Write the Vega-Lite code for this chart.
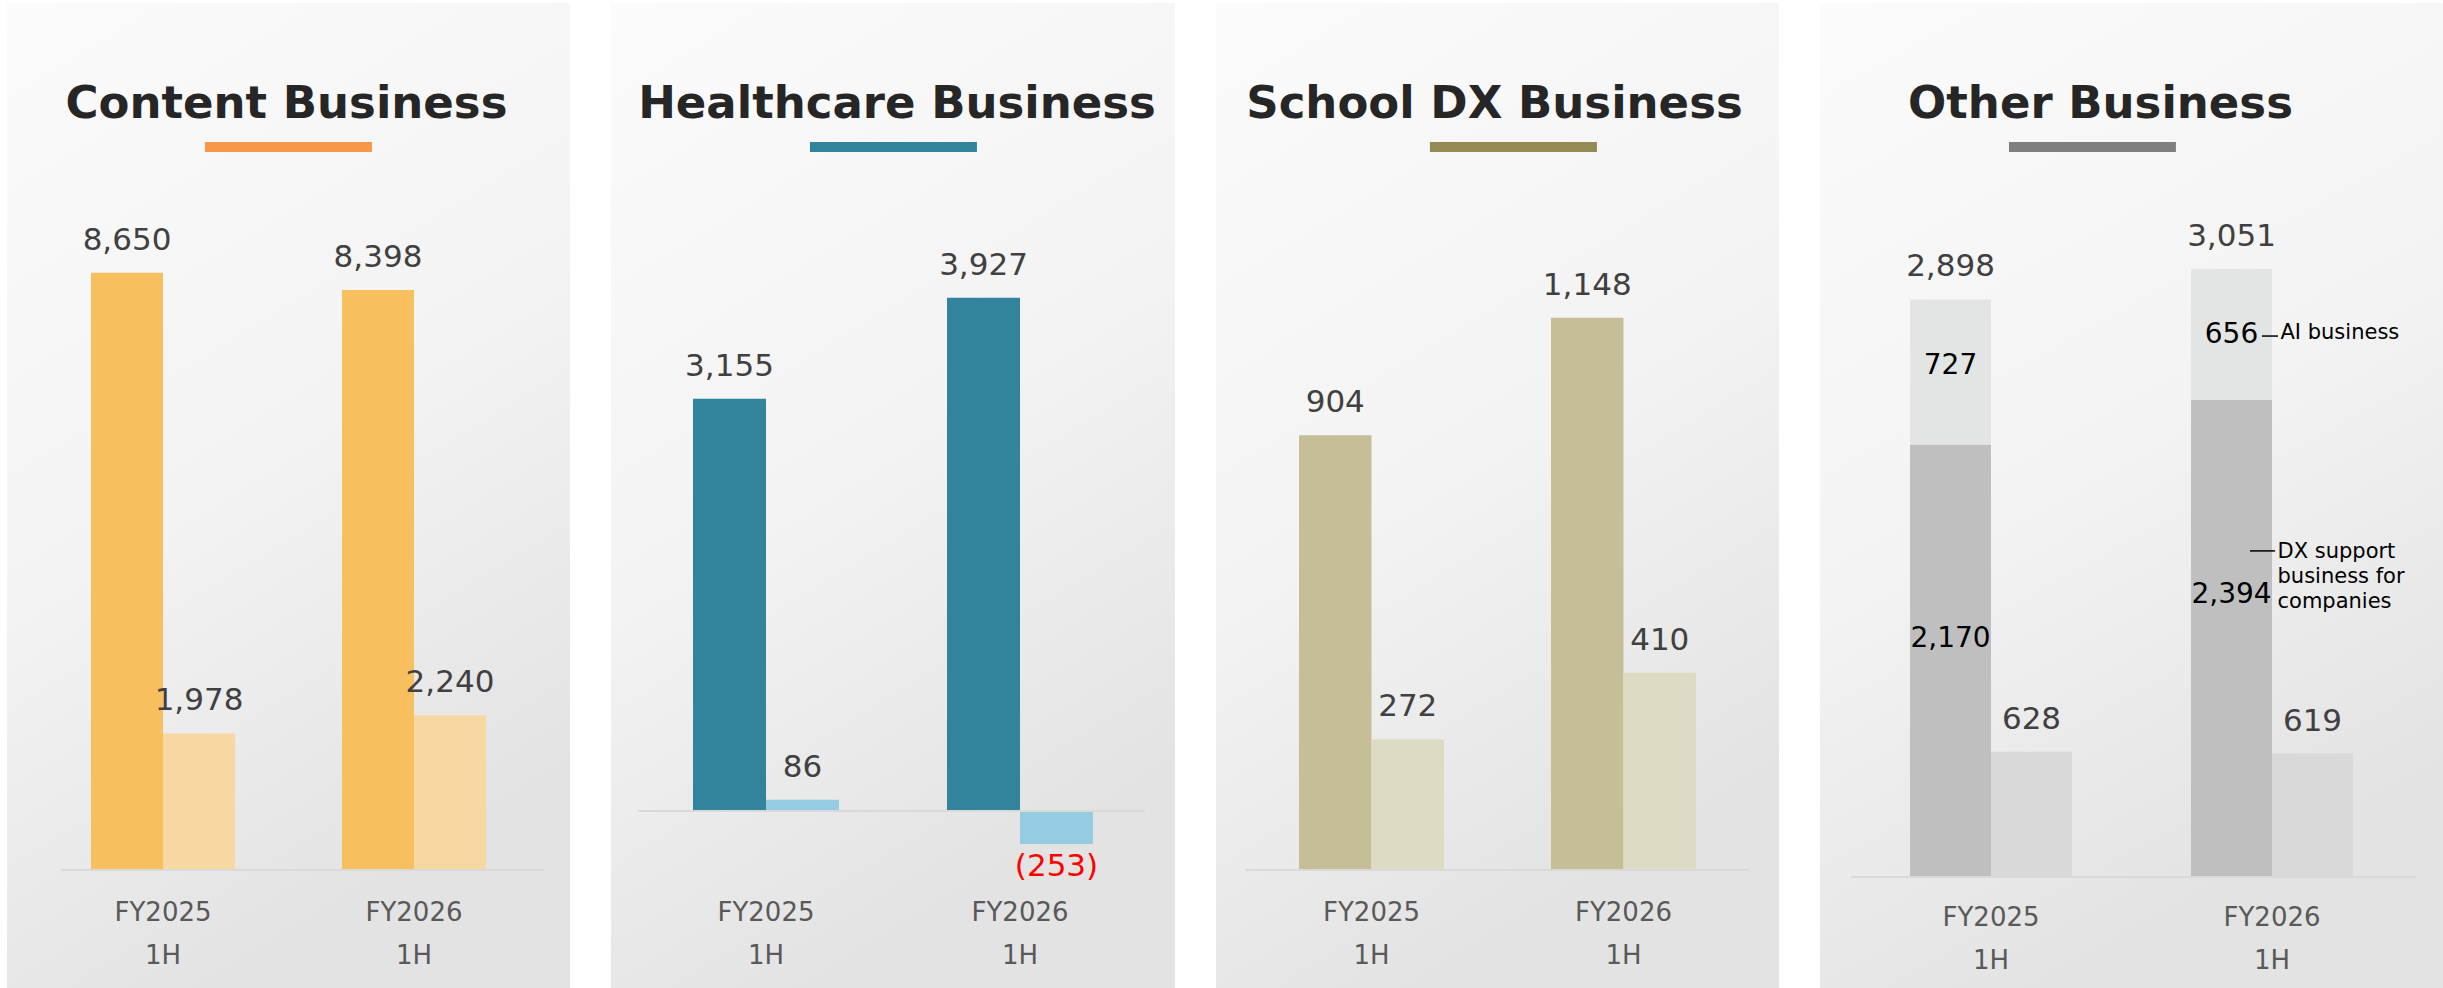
{
  "$schema": "https://vega.github.io/schema/vega-lite/v6.json",
  "background": "#ffffff",
  "padding": {"left": 7, "top": 3, "right": 0, "bottom": 0},
  "spacing": 41,
  "datasets": {
    "content": [
      {"period": "FY2025 1H", "metric": "Net sales", "value": 8650},
      {"period": "FY2025 1H", "metric": "Operating profit", "value": 1978},
      {"period": "FY2026 1H", "metric": "Net sales", "value": 8398},
      {"period": "FY2026 1H", "metric": "Operating profit", "value": 2240}
    ],
    "healthcare": [
      {"period": "FY2025 1H", "metric": "Net sales", "value": 3155},
      {"period": "FY2025 1H", "metric": "Operating profit", "value": 86},
      {"period": "FY2026 1H", "metric": "Net sales", "value": 3927},
      {"period": "FY2026 1H", "metric": "Operating profit", "value": -253}
    ],
    "school": [
      {"period": "FY2025 1H", "metric": "Net sales", "value": 904},
      {"period": "FY2025 1H", "metric": "Operating profit", "value": 272},
      {"period": "FY2026 1H", "metric": "Net sales", "value": 1148},
      {"period": "FY2026 1H", "metric": "Operating profit", "value": 410}
    ],
    "other_parts": [
      {"period": "FY2025 1H", "metric": "Net sales", "part": "DX support\nbusiness for\ncompanies", "value": 2170},
      {"period": "FY2025 1H", "metric": "Net sales", "part": "AI business", "value": 727},
      {"period": "FY2025 1H", "metric": "Operating profit", "part": "Operating profit", "value": 628},
      {"period": "FY2026 1H", "metric": "Net sales", "part": "DX support\nbusiness for\ncompanies", "value": 2394},
      {"period": "FY2026 1H", "metric": "Net sales", "part": "AI business", "value": 656},
      {"period": "FY2026 1H", "metric": "Operating profit", "part": "Operating profit", "value": 619}
    ],
    "other_totals": [
      {"period": "FY2025 1H", "metric": "Net sales", "value": 2898},
      {"period": "FY2026 1H", "metric": "Net sales", "value": 3051}
    ]
  },
  "resolve": {"scale": {"x": "independent", "y": "independent", "color": "independent", "xOffset": "independent"}},
  "hconcat": [
    {
      "width": 563, "height": 985,
      "title": {"text": "Content Business", "dx": -2},
      "data": {"name": "content"},
      "layer": [
        {
          "mark": {"type": "bar"},
          "encoding": {
            "x": {"field": "period", "type": "nominal", "sort": null, "title": null,
                  "scale": {"paddingInner": 0.4263, "paddingOuter": 0.3347},
                  "axis": {"offset": -100, "labelExpr": "split(datum.label, ' ')"}},
            "xOffset": {"field": "metric", "type": "nominal", "scale": {"paddingInner": 0, "paddingOuter": 0}},
            "y": {"field": "value", "type": "quantitative", "axis": null,
                  "scale": {"domain": [-1709, 12556], "nice": false, "zero": false}},
            "color": {"field": "metric", "type": "nominal", "legend": null,
                      "scale": {"domain": ["Net sales", "Operating profit"], "range": ["#F8BF5E", "#F7D8A3"]}}
          }
        },
        {
          "mark": {"type": "text", "font": "DejaVu Sans", "fontSize": 31, "color": "#404040", "baseline": "alphabetic", "dy": -23},
          "encoding": {
            "x": {"field": "period", "type": "nominal"},
            "xOffset": {"field": "metric", "type": "nominal"},
            "y": {"field": "value", "type": "quantitative"},
            "text": {"field": "value", "type": "quantitative", "format": "(,d"}
          }
        },
        {
          "data": {"values": [{}]},
          "mark": {"type": "rule", "stroke": "#D9D9D9", "strokeWidth": 2},
          "encoding": {
            "x": {"datum": "FY2025 1H", "type": "nominal", "bandPosition": -0.208},
            "x2": {"datum": "FY2026 1H", "bandPosition": 1.403},
            "y": {"datum": 0, "type": "quantitative"}
          }
        },
        {
          "data": {"values": [{}]},
          "mark": {"type": "rule", "stroke": "#F79646", "strokeWidth": 10},
          "encoding": {
            "x": {"datum": "FY2025 1H", "type": "nominal", "bandPosition": 0.792},
            "x2": {"datum": "FY2026 1H", "bandPosition": 0.208},
            "y": {"datum": 10471, "type": "quantitative"}
          }
        }
      ]
    },
    {
      "width": 564, "height": 985,
      "title": {"text": "Healthcare Business", "dx": 4},
      "data": {"name": "healthcare"},
      "layer": [
        {
          "mark": {"type": "bar"},
          "encoding": {
            "x": {"field": "period", "type": "nominal", "sort": null, "title": null,
                  "scale": {"paddingInner": 0.4252, "paddingOuter": 0.3228},
                  "axis": {"offset": -100, "labelExpr": "split(datum.label, ' ')"}},
            "xOffset": {"field": "metric", "type": "nominal", "scale": {"paddingInner": 0, "paddingOuter": 0}},
            "y": {"field": "value", "type": "quantitative", "axis": null,
                  "scale": {"domain": [-1354, 6182], "nice": false, "zero": false}},
            "color": {"field": "metric", "type": "nominal", "legend": null,
                      "scale": {"domain": ["Net sales", "Operating profit"], "range": ["#31849B", "#95CCE1"]}}
          }
        },
        {
          "transform": [{"filter": "datum.value >= 0"}],
          "mark": {"type": "text", "font": "DejaVu Sans", "fontSize": 31, "color": "#404040", "baseline": "alphabetic", "dy": -23},
          "encoding": {
            "x": {"field": "period", "type": "nominal"},
            "xOffset": {"field": "metric", "type": "nominal"},
            "y": {"field": "value", "type": "quantitative"},
            "text": {"field": "value", "type": "quantitative", "format": "(,d"}
          }
        },
        {
          "transform": [{"filter": "datum.value < 0"}],
          "mark": {"type": "text", "font": "DejaVu Sans", "fontSize": 31, "color": "#FF0000", "baseline": "alphabetic", "dy": 32},
          "encoding": {
            "x": {"field": "period", "type": "nominal"},
            "xOffset": {"field": "metric", "type": "nominal"},
            "y": {"field": "value", "type": "quantitative"},
            "text": {"field": "value", "type": "quantitative", "format": "(,d"}
          }
        },
        {
          "data": {"values": [{}]},
          "mark": {"type": "rule", "stroke": "#D9D9D9", "strokeWidth": 2},
          "encoding": {
            "x": {"datum": "FY2025 1H", "type": "nominal", "bandPosition": -0.377},
            "x2": {"datum": "FY2026 1H", "bandPosition": 1.356},
            "y": {"datum": 0, "type": "quantitative"}
          }
        },
        {
          "data": {"values": [{}]},
          "mark": {"type": "rule", "stroke": "#31849B", "strokeWidth": 10},
          "encoding": {
            "x": {"datum": "FY2025 1H", "type": "nominal", "bandPosition": 0.801},
            "x2": {"datum": "FY2026 1H", "bandPosition": 0.205},
            "y": {"datum": 5080, "type": "quantitative"}
          }
        }
      ]
    },
    {
      "width": 563, "height": 985,
      "title": {"text": "School DX Business", "dx": -3},
      "data": {"name": "school"},
      "layer": [
        {
          "mark": {"type": "bar"},
          "encoding": {
            "x": {"field": "period", "type": "nominal", "sort": null, "title": null,
                  "scale": {"paddingInner": 0.4246, "paddingOuter": 0.3294},
                  "axis": {"offset": -100, "labelExpr": "split(datum.label, ' ')"}},
            "xOffset": {"field": "metric", "type": "nominal", "scale": {"paddingInner": 0, "paddingOuter": 0}},
            "y": {"field": "value", "type": "quantitative", "axis": null,
                  "scale": {"domain": [-245.3, 1802.5], "nice": false, "zero": false}},
            "color": {"field": "metric", "type": "nominal", "legend": null,
                      "scale": {"domain": ["Net sales", "Operating profit"], "range": ["#C5BE97", "#DEDBC3"]}}
          }
        },
        {
          "mark": {"type": "text", "font": "DejaVu Sans", "fontSize": 31, "color": "#404040", "baseline": "alphabetic", "dy": -23},
          "encoding": {
            "x": {"field": "period", "type": "nominal"},
            "xOffset": {"field": "metric", "type": "nominal"},
            "y": {"field": "value", "type": "quantitative"},
            "text": {"field": "value", "type": "quantitative", "format": "(,d"}
          }
        },
        {
          "data": {"values": [{}]},
          "mark": {"type": "rule", "stroke": "#D9D9D9", "strokeWidth": 2},
          "encoding": {
            "x": {"datum": "FY2025 1H", "type": "nominal", "bandPosition": -0.372},
            "x2": {"datum": "FY2026 1H", "bandPosition": 1.366},
            "y": {"datum": 0, "type": "quantitative"}
          }
        },
        {
          "data": {"values": [{}]},
          "mark": {"type": "rule", "stroke": "#948A54", "strokeWidth": 10},
          "encoding": {
            "x": {"datum": "FY2025 1H", "type": "nominal", "bandPosition": 0.903},
            "x2": {"datum": "FY2026 1H", "bandPosition": 0.317},
            "y": {"datum": 1503, "type": "quantitative"}
          }
        }
      ]
    },
    {
      "width": 623, "height": 985,
      "title": {"text": "Other Business", "dx": -31},
      "data": {"name": "other_parts"},
      "layer": [
        {
          "transform": [{"stack": "value", "groupby": ["period", "metric"], "sort": [{"field": "part", "order": "descending"}], "as": ["v0", "v1"]}],
          "mark": {"type": "bar"},
          "encoding": {
            "x": {"field": "period", "type": "nominal", "sort": null, "title": null,
                  "scale": {"paddingInner": 0.4235, "paddingOuter": 0.3203},
                  "axis": {"offset": -95, "labelExpr": "split(datum.label, ' ')"}},
            "xOffset": {"field": "metric", "type": "nominal", "scale": {"paddingInner": 0, "paddingOuter": 0}},
            "y": {"field": "v0", "type": "quantitative", "axis": null, "title": null,
                  "scale": {"domain": [-557, 4385], "nice": false, "zero": false}},
            "y2": {"field": "v1"},
            "color": {"field": "part", "type": "nominal", "legend": null,
                      "scale": {"domain": ["DX support\nbusiness for\ncompanies", "AI business", "Operating profit"], "range": ["#BFBFBF", "#E2E5E4", "#D9D9D9"]}}
          }
        },
        {
          "transform": [{"filter": "datum.metric === 'Operating profit'"}],
          "mark": {"type": "text", "font": "DejaVu Sans", "fontSize": 31, "color": "#404040", "baseline": "alphabetic", "dy": -23},
          "encoding": {
            "x": {"field": "period", "type": "nominal"},
            "xOffset": {"field": "metric", "type": "nominal"},
            "y": {"field": "value", "type": "quantitative"},
            "text": {"field": "value", "type": "quantitative", "format": "(,d"}
          }
        },
        {
          "transform": [
            {"stack": "value", "groupby": ["period", "metric"], "sort": [{"field": "part", "order": "descending"}], "as": ["v0", "v1"]},
            {"filter": "datum.part === 'AI business'"}
          ],
          "mark": {"type": "text", "font": "DejaVu Sans", "fontSize": 28, "color": "#000000", "baseline": "middle", "dy": 66},
          "encoding": {
            "x": {"field": "period", "type": "nominal"},
            "xOffset": {"field": "metric", "type": "nominal"},
            "y": {"field": "v1", "type": "quantitative"},
            "text": {"field": "value", "type": "quantitative", "format": "(,d"}
          }
        },
        {
          "transform": [
            {"stack": "value", "groupby": ["period", "metric"], "sort": [{"field": "part", "order": "descending"}], "as": ["v0", "v1"]},
            {"filter": "datum.metric === 'Net sales' && datum.part !== 'AI business'"}
          ],
          "mark": {"type": "text", "font": "DejaVu Sans", "fontSize": 28, "color": "#000000", "baseline": "middle", "dy": 195},
          "encoding": {
            "x": {"field": "period", "type": "nominal"},
            "xOffset": {"field": "metric", "type": "nominal"},
            "y": {"field": "v1", "type": "quantitative"},
            "text": {"field": "value", "type": "quantitative", "format": "(,d"}
          }
        },
        {
          "transform": [
            {"stack": "value", "groupby": ["period", "metric"], "sort": [{"field": "part", "order": "descending"}], "as": ["v0", "v1"]},
            {"filter": "datum.period === 'FY2026 1H' && datum.part === 'AI business'"}
          ],
          "mark": {"type": "text", "font": "DejaVu Sans", "fontSize": 21, "color": "#000000", "baseline": "middle", "align": "left", "dy": 64, "dx": 49},
          "encoding": {
            "x": {"field": "period", "type": "nominal"},
            "xOffset": {"field": "metric", "type": "nominal"},
            "y": {"field": "v1", "type": "quantitative"},
            "text": {"field": "part", "type": "nominal"}
          }
        },
        {
          "transform": [
            {"stack": "value", "groupby": ["period", "metric"], "sort": [{"field": "part", "order": "descending"}], "as": ["v0", "v1"]},
            {"filter": "datum.period === 'FY2026 1H' && datum.metric === 'Net sales' && datum.part !== 'AI business'"}
          ],
          "mark": {"type": "text", "font": "DejaVu Sans", "fontSize": 21, "color": "#000000", "baseline": "top", "align": "left", "dy": 141, "dx": 46, "lineBreak": "\n", "lineHeight": 25},
          "encoding": {
            "x": {"field": "period", "type": "nominal"},
            "xOffset": {"field": "metric", "type": "nominal"},
            "y": {"field": "v1", "type": "quantitative"},
            "text": {"field": "part", "type": "nominal"}
          }
        },
        {
          "data": {"name": "other_totals"},
          "mark": {"type": "text", "font": "DejaVu Sans", "fontSize": 31, "color": "#404040", "baseline": "alphabetic", "dy": -23},
          "encoding": {
            "x": {"field": "period", "type": "nominal"},
            "xOffset": {"field": "metric", "type": "nominal"},
            "y": {"field": "value", "type": "quantitative"},
            "text": {"field": "value", "type": "quantitative", "format": "(,d"}
          }
        },
        {
          "data": {"values": [{}]},
          "mark": {"type": "rule", "stroke": "#000000", "strokeWidth": 1.5},
          "encoding": {
            "x": {"datum": "FY2026 1H", "type": "nominal", "bandPosition": 0.438},
            "x2": {"datum": "FY2026 1H", "bandPosition": 0.537},
            "y": {"datum": 2714, "type": "quantitative"}
          }
        },
        {
          "data": {"values": [{}]},
          "mark": {"type": "rule", "stroke": "#000000", "strokeWidth": 1.5},
          "encoding": {
            "x": {"datum": "FY2026 1H", "type": "nominal", "bandPosition": 0.364},
            "x2": {"datum": "FY2026 1H", "bandPosition": 0.519},
            "y": {"datum": 1636, "type": "quantitative"}
          }
        },
        {
          "data": {"values": [{}]},
          "mark": {"type": "rule", "stroke": "#D9D9D9", "strokeWidth": 2},
          "encoding": {
            "x": {"datum": "FY2025 1H", "type": "nominal", "bandPosition": -0.364},
            "x2": {"datum": "FY2026 1H", "bandPosition": 1.389},
            "y": {"datum": 0, "type": "quantitative"}
          }
        },
        {
          "data": {"values": [{}]},
          "mark": {"type": "rule", "stroke": "#7F7F7F", "strokeWidth": 10},
          "encoding": {
            "x": {"datum": "FY2025 1H", "type": "nominal", "bandPosition": 0.611},
            "x2": {"datum": "FY2026 1H", "bandPosition": -0.093},
            "y": {"datum": 3663, "type": "quantitative"}
          }
        }
      ]
    }
  ],
  "config": {
    "view": {
      "stroke": null,
      "fill": {"gradient": "linear", "x1": 0, "y1": 0, "x2": 0.35, "y2": 1,
               "stops": [{"offset": 0, "color": "#fbfbfb"}, {"offset": 0.55, "color": "#f3f3f3"}, {"offset": 1, "color": "#e3e3e3"}]}
    },
    "title": {"font": "DejaVu Sans", "fontSize": 45, "fontWeight": "bold", "color": "#262626", "anchor": "middle", "frame": "group", "baseline": "alphabetic", "offset": -124},
    "axis": {"grid": false},
    "axisX": {"domain": false, "ticks": false, "labelFont": "DejaVu Sans", "labelFontSize": 26, "labelColor": "#595959", "labelLineHeight": 43, "labelPadding": 11, "labelAngle": 0}
  }
}
